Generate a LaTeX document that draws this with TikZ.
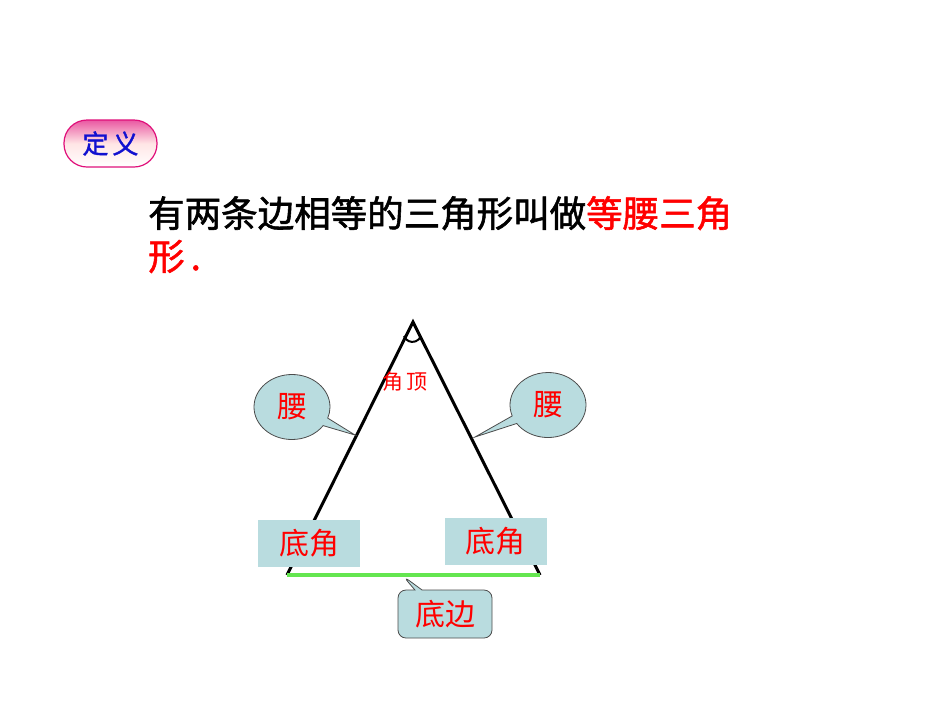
\documentclass[tikz,border=0pt]{standalone}
\usepackage{fontspec}
\newfontfamily\cjk{Noto Sans CJK SC}
\newfontfamily\cjkb[FakeBold=1.5]{Noto Sans CJK SC}
\usetikzlibrary{shapes.callouts}
\definecolor{callfill}{HTML}{B9DCDF}
\definecolor{redtxt}{HTML}{FF0000}
\definecolor{bluetxt}{HTML}{1010D0}
\definecolor{pinkedge}{HTML}{E0107A}
\tikzset{
  lbl/.style={font=\cjk\fontsize{30}{30}\selectfont, text=redtxt},
  bubble/.style={ellipse callout, draw=black!70, fill=callfill, line width=0.8pt, minimum width=76pt, minimum height=65pt, inner sep=0pt},
  anglebox/.style={fill=callfill, minimum width=102pt, minimum height=47pt, inner sep=0pt},
  side/.style={line width=3pt, black}
}
\begin{document}
\begin{tikzpicture}[x=1pt,y=-1pt]
\useasboundingbox (0,0) rectangle (950,713);
\fill[white] (0,0) rectangle (950,713);
% badge
\node[draw=pinkedge, line width=1.2pt, rounded corners=23pt, top color=pinkedge!70, bottom color=white, middle color=pink!40, minimum width=93pt, minimum height=47pt, font=\cjkb\fontsize{26}{26}\selectfont, text=bluetxt] (badge) at (110.5,143.5) {定\hspace{4pt}义};
% text
\node[anchor=base west, font=\cjkb\fontsize{36.5}{36.5}\selectfont, inner sep=0pt] (line1) at (148,227) {有两条边相等的三角形叫做\textcolor{redtxt}{等腰三角}};
\node[anchor=base west, font=\cjkb\fontsize{36.5}{36.5}\selectfont, inner sep=0pt, text=redtxt] (line2) at (148,270) {形\,.};
% triangle
\coordinate (A) at (413,322);
\coordinate (B) at (287,575);
\coordinate (C) at (540,575);
\draw[side] (B) -- (A) -- (C);
\draw[line width=3.5pt, color={rgb,255:red,100;green,230;blue,80}] (B) -- (C);
\draw[line width=2pt] (404,336) arc[start angle=200, end angle=340, radius=9pt];
\node[font=\cjk\fontsize{21}{21}\selectfont, text=redtxt] (apex) at (405,382) {角\hspace{4pt}顶};
% callouts
\coordinate (lt) at (355,435);
\coordinate (rt) at (475,437);
\coordinate (bt) at (403,576);
\node[bubble, callout absolute pointer={(lt)}, lbl] (yl) at (292,407) {腰};
\node[bubble, callout absolute pointer={(rt)}, lbl] (yr) at (548,405) {腰};
\node[anglebox, lbl] (dl) at (309,543.5) {底角};
\node[anglebox, lbl] (dr) at (495.5,541.5) {底角};
\node[rectangle callout, rounded corners=8pt, draw=black!70, fill=callfill, line width=0.8pt, minimum width=94pt, minimum height=48pt, inner sep=0pt, callout absolute pointer={(bt)}, lbl] (db) at (445,614) {底边};
\end{tikzpicture}
\end{document}
